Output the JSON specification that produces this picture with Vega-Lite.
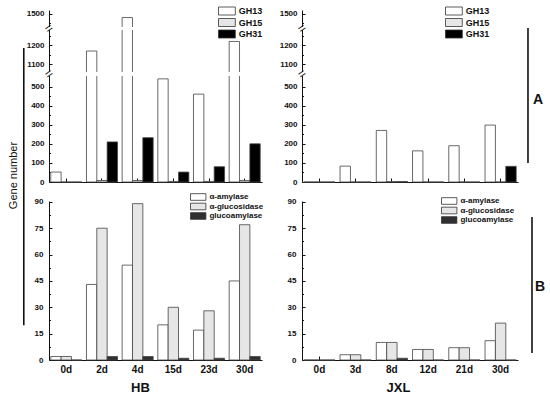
{
  "$schema": "https://vega.github.io/schema/vega-lite/v6.json",
  "autosize": {"type": "none"},
  "padding": {"left": 49, "top": 10, "right": 501, "bottom": 386},
  "background": "white",
  "config": {
    "view": {"stroke": null},
    "font": "Liberation Sans",
    "axis": {"grid": false, "domainColor": "#111", "tickColor": "#111", "labelColor": "#111", "labelFont": "Liberation Sans", "labelFontWeight": "bold", "titleFont": "Liberation Sans", "titleColor": "#111", "labelOverlap": false},
    "legend": {"titleFont": "Liberation Sans", "labelFont": "Liberation Sans", "labelFontWeight": "bold", "labelColor": "#111", "symbolStrokeColor": "#333", "symbolStrokeWidth": 0.8, "symbolOpacity": 1}
  },
  "datasets": {
    "hbA": [
      {"day": "0d", "series": "GH13", "value": 52}, {"day": "0d", "series": "GH15", "value": 0}, {"day": "0d", "series": "GH31", "value": 0},
      {"day": "2d", "series": "GH13", "value": 1170}, {"day": "2d", "series": "GH15", "value": 8}, {"day": "2d", "series": "GH31", "value": 210},
      {"day": "4d", "series": "GH13", "value": 1480}, {"day": "4d", "series": "GH15", "value": 8}, {"day": "4d", "series": "GH31", "value": 232},
      {"day": "15d", "series": "GH13", "value": 540}, {"day": "15d", "series": "GH15", "value": 3}, {"day": "15d", "series": "GH31", "value": 52},
      {"day": "23d", "series": "GH13", "value": 460}, {"day": "23d", "series": "GH15", "value": 3}, {"day": "23d", "series": "GH31", "value": 80},
      {"day": "30d", "series": "GH13", "value": 1220}, {"day": "30d", "series": "GH15", "value": 8}, {"day": "30d", "series": "GH31", "value": 200}
    ],
    "jxlA": [
      {"day": "0d", "series": "GH13", "value": 0}, {"day": "0d", "series": "GH15", "value": 0}, {"day": "0d", "series": "GH31", "value": 0},
      {"day": "3d", "series": "GH13", "value": 83}, {"day": "3d", "series": "GH15", "value": 0}, {"day": "3d", "series": "GH31", "value": 0},
      {"day": "8d", "series": "GH13", "value": 270}, {"day": "8d", "series": "GH15", "value": 2}, {"day": "8d", "series": "GH31", "value": 2},
      {"day": "12d", "series": "GH13", "value": 163}, {"day": "12d", "series": "GH15", "value": 0}, {"day": "12d", "series": "GH31", "value": 0},
      {"day": "21d", "series": "GH13", "value": 190}, {"day": "21d", "series": "GH15", "value": 0}, {"day": "21d", "series": "GH31", "value": 0},
      {"day": "30d", "series": "GH13", "value": 298}, {"day": "30d", "series": "GH15", "value": 0}, {"day": "30d", "series": "GH31", "value": 82}
    ],
    "hbB": [
      {"day": "0d", "series": "α-amylase", "value": 2}, {"day": "0d", "series": "α-glucosidase", "value": 2}, {"day": "0d", "series": "glucoamylase", "value": 0},
      {"day": "2d", "series": "α-amylase", "value": 43}, {"day": "2d", "series": "α-glucosidase", "value": 75}, {"day": "2d", "series": "glucoamylase", "value": 2},
      {"day": "4d", "series": "α-amylase", "value": 54}, {"day": "4d", "series": "α-glucosidase", "value": 89}, {"day": "4d", "series": "glucoamylase", "value": 2},
      {"day": "15d", "series": "α-amylase", "value": 20}, {"day": "15d", "series": "α-glucosidase", "value": 30}, {"day": "15d", "series": "glucoamylase", "value": 1},
      {"day": "23d", "series": "α-amylase", "value": 17}, {"day": "23d", "series": "α-glucosidase", "value": 28}, {"day": "23d", "series": "glucoamylase", "value": 1},
      {"day": "30d", "series": "α-amylase", "value": 45}, {"day": "30d", "series": "α-glucosidase", "value": 77}, {"day": "30d", "series": "glucoamylase", "value": 2}
    ],
    "jxlB": [
      {"day": "0d", "series": "α-amylase", "value": 0}, {"day": "0d", "series": "α-glucosidase", "value": 0}, {"day": "0d", "series": "glucoamylase", "value": 0},
      {"day": "3d", "series": "α-amylase", "value": 3}, {"day": "3d", "series": "α-glucosidase", "value": 3}, {"day": "3d", "series": "glucoamylase", "value": 0},
      {"day": "8d", "series": "α-amylase", "value": 10}, {"day": "8d", "series": "α-glucosidase", "value": 10}, {"day": "8d", "series": "glucoamylase", "value": 1},
      {"day": "12d", "series": "α-amylase", "value": 6}, {"day": "12d", "series": "α-glucosidase", "value": 6}, {"day": "12d", "series": "glucoamylase", "value": 0},
      {"day": "21d", "series": "α-amylase", "value": 7}, {"day": "21d", "series": "α-glucosidase", "value": 7}, {"day": "21d", "series": "glucoamylase", "value": 0},
      {"day": "30d", "series": "α-amylase", "value": 11}, {"day": "30d", "series": "α-glucosidase", "value": 21}, {"day": "30d", "series": "glucoamylase", "value": 0}
    ]
  },
  "columns": 2,
  "spacing": {"row": 19, "column": 40},
  "bounds": "flush",
  "resolve": {
    "scale": {"x": "independent", "y": "independent", "color": "independent", "xOffset": "independent"},
    "axis": {"x": "independent", "y": "independent"},
    "legend": {"color": "independent"}
  },
  "concat": [
    {
      "width": 213, "height": 172,
      "data": {"name": "hbA"},
      "resolve": {"axis": {"x": "independent", "y": "independent"}},
      "layer": [
        {
          "mark": {"type": "bar", "stroke": "#444", "strokeWidth": 0.8},
          "encoding": {
            "x": {"field": "day", "type": "nominal", "scale": {"domain": ["0d", "2d", "4d", "15d", "23d", "30d"], "paddingInner": 0.13, "paddingOuter": 0.05}, "axis": {"labels": false, "title": null, "tickSize": -4}},
            "xOffset": {"field": "series", "type": "nominal", "scale": {"domain": ["GH13", "GH15", "GH31"], "paddingInner": 0, "paddingOuter": 0}},
            "y": {"field": "value", "type": "quantitative",
              "scale": {"domain": [0, 555, 1060, 1280, 1430, 1520], "range": [172, 66, 62, 20, 17, 0], "nice": false, "zero": false},
              "axis": {"values": [0, 50, 100, 150, 200, 250, 300, 350, 400, 450, 500, 1100, 1150, 1200, 1250, 1450, 1500], "format": "d", "labelOverlap": false,
                "labelExpr": "datum.value % 100 === 0 ? datum.label : ''", "labelFontSize": 8, "labelPadding": 8,
                "tickSize": {"condition": {"test": "datum.value % 100 !== 0", "value": -1.5}, "value": -3},
                "title": "Gene number", "titleX": -36, "titleY": 165, "titleAngle": 270, "titleAlign": "center", "titleBaseline": "middle", "titleFontSize": 11, "titleFontWeight": "normal"}},
            "color": {"field": "series", "type": "nominal", "scale": {"domain": ["GH13", "GH15", "GH31"], "range": ["#ffffff", "#e6e6e6", "#000000"]},
              "legend": {"orient": "none", "legendX": 173.4, "legendY": -3.5, "title": null, "symbolType": "M-2.1,-1H2.1V1H-2.1Z", "symbolSize": 64, "labelFontSize": 9, "labelOffset": 7.4, "rowPadding": -1.5}}
          }
        },
        {
          "data": {"values": [{}]},
          "mark": {"type": "rect", "color": "white", "xOffset": -3},
          "encoding": {"y": {"datum": 555, "type": "quantitative", "axis": null}, "y2": {"datum": 1060}}
        },
        {
          "data": {"values": [{}]},
          "mark": {"type": "rect", "color": "white", "xOffset": -3},
          "encoding": {"y": {"datum": 1280, "type": "quantitative", "axis": null}, "y2": {"datum": 1430}}
        },
        {
          "data": {"values": [{}]},
          "mark": {"type": "text", "text": "=", "angle": -35, "fontSize": 13, "xOffset": -1.8, "color": "#222", "align": "center", "baseline": "middle"},
          "encoding": {"x": {"datum": "0d", "type": "nominal", "bandPosition": 0, "axis": null}, "y": {"datum": 805, "type": "quantitative", "axis": null}}
        },
        {
          "data": {"values": [{}]},
          "mark": {"type": "text", "text": "=", "angle": -35, "fontSize": 13, "xOffset": -1.8, "color": "#222", "align": "center", "baseline": "middle"},
          "encoding": {"x": {"datum": "0d", "type": "nominal", "bandPosition": 0, "axis": null}, "y": {"datum": 1355, "type": "quantitative", "axis": null}}
        },
        {
          "data": {"values": [{}]},
          "mark": {"type": "rule", "color": "#111", "strokeWidth": 1.6, "xOffset": -27},
          "encoding": {"x": {"datum": "0d", "type": "nominal", "bandPosition": 0, "axis": null}, "y": {"datum": 1186, "type": "quantitative", "axis": null}, "y2": {"datum": -750}}
        }
      ]
    },
    {
      "width": 216, "height": 172,
      "data": {"name": "jxlA"},
      "resolve": {"axis": {"x": "independent", "y": "independent"}},
      "layer": [
        {
          "mark": {"type": "bar", "stroke": "#444", "strokeWidth": 0.8},
          "encoding": {
            "x": {"field": "day", "type": "nominal", "scale": {"domain": ["0d", "3d", "8d", "12d", "21d", "30d"], "paddingInner": 0.14, "paddingOuter": 0.05}, "axis": {"labels": false, "title": null, "tickSize": -4}},
            "xOffset": {"field": "series", "type": "nominal", "scale": {"domain": ["GH13", "GH15", "GH31"], "paddingInner": 0, "paddingOuter": 0}},
            "y": {"field": "value", "type": "quantitative",
              "scale": {"domain": [0, 555, 1060, 1280, 1430, 1520], "range": [172, 66, 62, 20, 17, 0], "nice": false, "zero": false},
              "axis": {"values": [0, 50, 100, 150, 200, 250, 300, 350, 400, 450, 500, 1100, 1150, 1200, 1250, 1450, 1500], "format": "d", "labelOverlap": false,
                "labelExpr": "datum.value % 100 === 0 ? datum.label : ''", "labelFontSize": 8, "labelPadding": 8,
                "tickSize": {"condition": {"test": "datum.value % 100 !== 0", "value": -1.5}, "value": -3},
                "title": null}},
            "color": {"field": "series", "type": "nominal", "scale": {"domain": ["GH13", "GH15", "GH31"], "range": ["#ffffff", "#e6e6e6", "#000000"]},
              "legend": {"orient": "none", "legendX": 147.4, "legendY": -3.5, "title": null, "symbolType": "M-2.1,-1H2.1V1H-2.1Z", "symbolSize": 64, "labelFontSize": 9, "labelOffset": 7.4, "rowPadding": -1.5}}
          }
        },
        {
          "data": {"values": [{}]},
          "mark": {"type": "rect", "color": "white", "xOffset": -3},
          "encoding": {"y": {"datum": 555, "type": "quantitative", "axis": null}, "y2": {"datum": 1060}}
        },
        {
          "data": {"values": [{}]},
          "mark": {"type": "rect", "color": "white", "xOffset": -3},
          "encoding": {"y": {"datum": 1280, "type": "quantitative", "axis": null}, "y2": {"datum": 1430}}
        },
        {
          "data": {"values": [{}]},
          "mark": {"type": "text", "text": "=", "angle": -35, "fontSize": 13, "xOffset": -1.8, "color": "#222", "align": "center", "baseline": "middle"},
          "encoding": {"x": {"datum": "0d", "type": "nominal", "bandPosition": 0, "axis": null}, "y": {"datum": 805, "type": "quantitative", "axis": null}}
        },
        {
          "data": {"values": [{}]},
          "mark": {"type": "text", "text": "=", "angle": -35, "fontSize": 13, "xOffset": -1.8, "color": "#222", "align": "center", "baseline": "middle"},
          "encoding": {"x": {"datum": "0d", "type": "nominal", "bandPosition": 0, "axis": null}, "y": {"datum": 1355, "type": "quantitative", "axis": null}}
        },
        {
          "data": {"values": [{}]},
          "mark": {"type": "rule", "color": "#111", "strokeWidth": 1.6, "xOffset": 11.8},
          "encoding": {"x": {"datum": "30d", "type": "nominal", "bandPosition": 1, "axis": null}, "y": {"datum": 1380, "type": "quantitative", "axis": null}, "y2": {"datum": 100}}
        },
        {
          "data": {"values": [{}]},
          "mark": {"type": "text", "text": "A", "fontSize": 14, "fontWeight": "bold", "xOffset": 21.8, "color": "#111", "align": "center", "baseline": "middle"},
          "encoding": {"x": {"datum": "30d", "type": "nominal", "bandPosition": 1, "axis": null}, "y": {"datum": 429, "type": "quantitative", "axis": null}}
        }
      ]
    },
    {
      "width": 213, "height": 159,
      "data": {"name": "hbB"},
      "layer": [
        {
          "mark": {"type": "bar", "stroke": "#444", "strokeWidth": 0.8},
          "encoding": {
            "x": {"field": "day", "type": "nominal", "scale": {"domain": ["0d", "2d", "4d", "15d", "23d", "30d"], "paddingInner": 0.13, "paddingOuter": 0.05},
              "axis": {"labelAngle": 0, "labelFontSize": 10, "labelPadding": 8, "tickSize": -4, "title": "HB", "titleFontSize": 13, "titleFontWeight": "bold", "titleX": 91, "titleY": 31, "titleBaseline": "alphabetic", "titleAlign": "center"}},
            "xOffset": {"field": "series", "type": "nominal", "scale": {"domain": ["α-amylase", "α-glucosidase", "glucoamylase"], "paddingInner": 0, "paddingOuter": 0}},
            "y": {"field": "value", "type": "quantitative",
              "scale": {"domain": [0, 90.5], "nice": false, "zero": false},
              "axis": {"values": [0, 7.5, 15, 22.5, 30, 37.5, 45, 52.5, 60, 67.5, 75, 82.5, 90], "format": "d", "labelOverlap": false,
                "labelExpr": "datum.value % 15 === 0 ? datum.label : ''", "labelFontSize": 8, "labelPadding": 9,
                "tickSize": {"condition": {"test": "datum.value % 15 !== 0", "value": -1.5}, "value": -3},
                "title": null}},
            "color": {"field": "series", "type": "nominal", "scale": {"domain": ["α-amylase", "α-glucosidase", "glucoamylase"], "range": ["#ffffff", "#e6e6e6", "#303030"]},
              "legend": {"orient": "none", "legendX": 145.2, "legendY": -8, "title": null, "symbolType": "M-2.2,-0.95H2.2V0.95H-2.2Z", "symbolSize": 49, "labelFontSize": 8, "labelOffset": 7.2, "rowPadding": -0.5}}
          }
        }
      ]
    },
    {
      "width": 216, "height": 159,
      "data": {"name": "jxlB"},
      "resolve": {"axis": {"x": "independent", "y": "independent"}},
      "layer": [
        {
          "mark": {"type": "bar", "stroke": "#444", "strokeWidth": 0.8},
          "encoding": {
            "x": {"field": "day", "type": "nominal", "scale": {"domain": ["0d", "3d", "8d", "12d", "21d", "30d"], "paddingInner": 0.14, "paddingOuter": 0.05},
              "axis": {"labelAngle": 0, "labelFontSize": 10, "labelPadding": 8, "tickSize": -4, "title": "JXL", "titleFontSize": 13, "titleFontWeight": "bold", "titleX": 96, "titleY": 31, "titleBaseline": "alphabetic", "titleAlign": "center"}},
            "xOffset": {"field": "series", "type": "nominal", "scale": {"domain": ["α-amylase", "α-glucosidase", "glucoamylase"], "paddingInner": 0, "paddingOuter": 0}},
            "y": {"field": "value", "type": "quantitative",
              "scale": {"domain": [0, 90.5], "nice": false, "zero": false},
              "axis": {"values": [0, 7.5, 15, 22.5, 30, 37.5, 45, 52.5, 60, 67.5, 75, 82.5, 90], "format": "d", "labelOverlap": false,
                "labelExpr": "datum.value % 15 === 0 ? datum.label : ''", "labelFontSize": 8, "labelPadding": 9,
                "tickSize": {"condition": {"test": "datum.value % 15 !== 0", "value": -1.5}, "value": -3},
                "title": null}},
            "color": {"field": "series", "type": "nominal", "scale": {"domain": ["α-amylase", "α-glucosidase", "glucoamylase"], "range": ["#ffffff", "#e6e6e6", "#303030"]},
              "legend": {"orient": "none", "legendX": 143.2, "legendY": -4, "title": null, "symbolType": "M-2.2,-0.95H2.2V0.95H-2.2Z", "symbolSize": 49, "labelFontSize": 8, "labelOffset": 7.2, "rowPadding": -0.5}}
          }
        },
        {
          "data": {"values": [{}]},
          "mark": {"type": "rule", "color": "#111", "strokeWidth": 1.6, "xOffset": 15.8},
          "encoding": {"x": {"datum": "30d", "type": "nominal", "bandPosition": 1, "axis": null}, "y": {"datum": 81.4, "type": "quantitative", "axis": null}, "y2": {"datum": 4}}
        },
        {
          "data": {"values": [{}]},
          "mark": {"type": "text", "text": "B", "fontSize": 14, "fontWeight": "bold", "xOffset": 23.8, "color": "#111", "align": "center", "baseline": "middle"},
          "encoding": {"x": {"datum": "30d", "type": "nominal", "bandPosition": 1, "axis": null}, "y": {"datum": 41.6, "type": "quantitative", "axis": null}}
        }
      ]
    }
  ]
}
